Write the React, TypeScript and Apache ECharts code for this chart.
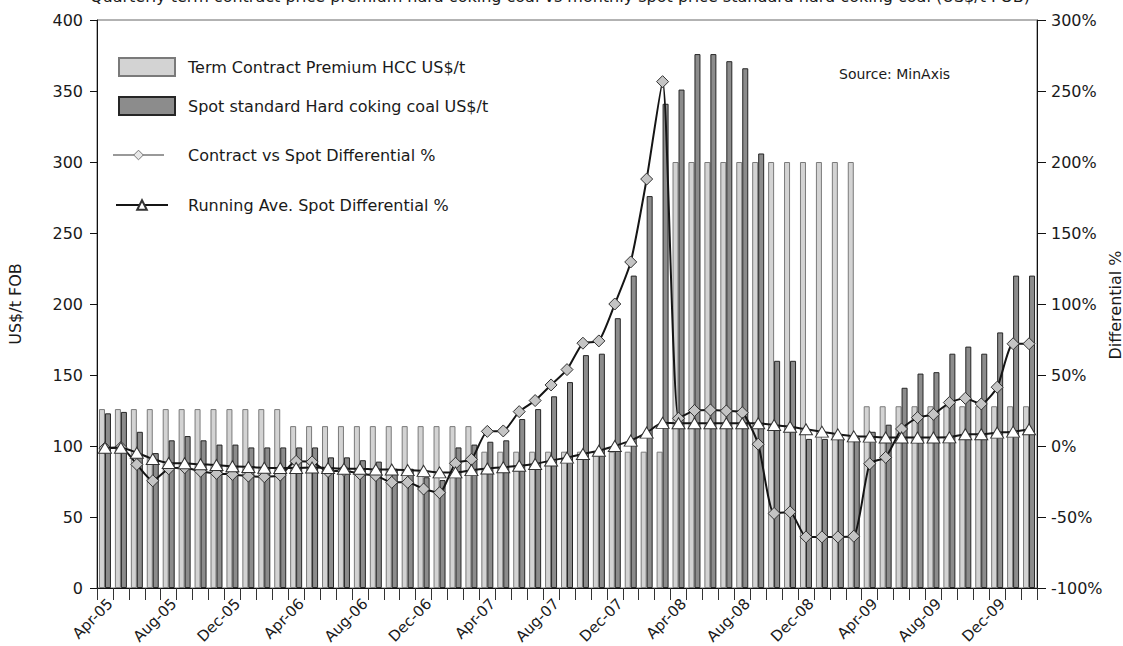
import React, { useEffect, useRef } from "react";
import * as echarts from "echarts";

const months = [
  "Apr-05", "May-05", "Jun-05", "Jul-05", "Aug-05", "Sep-05", "Oct-05", "Nov-05", "Dec-05", "Jan-06", "Feb-06", "Mar-06",
  "Apr-06", "May-06", "Jun-06", "Jul-06", "Aug-06", "Sep-06", "Oct-06", "Nov-06", "Dec-06", "Jan-07", "Feb-07", "Mar-07",
  "Apr-07", "May-07", "Jun-07", "Jul-07", "Aug-07", "Sep-07", "Oct-07", "Nov-07", "Dec-07", "Jan-08", "Feb-08", "Mar-08",
  "Apr-08", "May-08", "Jun-08", "Jul-08", "Aug-08", "Sep-08", "Oct-08", "Nov-08", "Dec-08", "Jan-09", "Feb-09", "Mar-09",
  "Apr-09", "May-09", "Jun-09", "Jul-09", "Aug-09", "Sep-09", "Oct-09", "Nov-09", "Dec-09", "Jan-10", "Feb-10",
];

const termContract = [
  126, 126, 126, 126, 126, 126, 126, 126, 126, 126, 126, 126,
  114, 114, 114, 114, 114, 114, 114, 114, 114, 114, 114, 114,
  96, 96, 96, 96, 96, 96, 96, 96, 96, 96, 96, 96,
  300, 300, 300, 300, 300, 300, 300, 300, 300, 300, 300, 300,
  128, 128, 128, 128, 128, 128, 128, 128, 128, 128, 128,
];

const spotHcc = [
  123, 124, 110, 95, 104, 107, 104, 101, 101, 99, 99, 99,
  99, 99, 92, 92, 90, 89, 84, 84, 78, 76, 99, 101,
  103, 104, 119, 126, 135, 145, 164, 165, 190, 220, 276, 341,
  351, 376, 376, 371, 366, 306, 160, 160, 105, 105, 105, 106,
  110, 115, 141, 151, 152, 165, 170, 165, 180, 220, 220,
];

const contractVsSpot = [
  -1.5, -1, -13, -24.5, -16, -15.3, -17.8, -19.3, -20, -21.2, -21.6, -20.5,
  -10.8, -11.2, -18, -17.2, -19.6, -20.8, -25.6, -25.6, -30.3, -32.9, -12.2, -9.4,
  10.3, 10.6, 24.2, 32, 43, 53.8, 72.4, 74, 100, 129.6, 188, 256.6,
  19.5, 25, 25.4, 24.7, 23.5, 1.3, -47.5, -46.4, -64, -64, -64, -63.5,
  -12.5, -8, 12, 20, 22.3, 30.6, 33.6, 29.6, 41.4, 72, 72,
];

const runningAve = [
  -1.2, -1.2, -4.7, -9.2, -12, -12.2, -12.9, -13.4, -14.3, -14.8, -15.3, -15.5,
  -15.5, -15.2, -15.5, -16, -16, -16.5, -16.5, -17, -17.5, -18.6, -18.6, -17,
  -15.8, -15, -13.9, -12.7, -10.2, -8.2, -5.6, -3.3, 0, 3.8, 9.4, 16.3,
  16, 16, 16, 16, 16, 16, 14.8, 13.6, 11.8, 10.1, 8.2, 6.8,
  6.6, 6, 6, 5.9, 6, 6.1, 8.3, 8.3, 9.4, 10.1, 11.8,
];

const seriesNames = [
  "Term Contract Premium HCC US$/t",
  "Spot standard Hard coking coal US$/t",
  "Contract vs Spot Differential %",
  "Running Ave. Spot Differential %",
];

const titleText =
  "Quarterly term contract price premium hard coking coal vs monthly spot price standard hard coking coal (US$/t FOB)";
const sourceText = "Source: MinAxis";
const leftAxisName = "US$/t FOB";
const rightAxisName = "Differential %";

const FONT = "DejaVu Sans";

export default function App() {
  const ref = useRef<HTMLDivElement>(null);

  useEffect(() => {
    if (!ref.current) return;
    const chart = echarts.init(ref.current, null, { renderer: "svg" });
    const legendBase = {
      orient: "vertical",
      padding: 0,
      selectedMode: false,
      textStyle: { fontFamily: FONT, fontSize: 16, color: "#1a1a1a" },
    };
    chart.setOption({
      animation: false,
      backgroundColor: "#ffffff",
      textStyle: { fontFamily: FONT },
      grid: {
        left: 97,
        right: 86,
        top: 20,
        bottom: 58,
        containLabel: false,
        outerBoundsMode: "none",
        show: true,
        borderColor: "#666",
        borderWidth: 1,
        backgroundColor: "transparent",
      },
      legend: [
        {
          ...legendBase,
          left: 118,
          top: 57,
          itemWidth: 56,
          itemHeight: 18,
          data: [{ name: seriesNames[0], icon: "rect" }],
          textStyle: { ...legendBase.textStyle, padding: [0, 0, 0, 8] },
        },
        {
          ...legendBase,
          left: 118,
          top: 96,
          itemWidth: 56,
          itemHeight: 18,
          data: [{ name: seriesNames[1], icon: "rect" }],
          textStyle: { ...legendBase.textStyle, padding: [0, 0, 0, 8] },
        },
        {
          ...legendBase,
          left: 112,
          top: 147,
          itemWidth: 51,
          itemHeight: 12,
          data: [
            {
              name: seriesNames[2],
              lineStyle: { color: "#999", width: 2 },
              itemStyle: { color: "#e8e8e8", borderColor: "#777", borderWidth: 1 },
            },
          ],
          textStyle: { ...legendBase.textStyle, padding: [0, 0, 0, 19] },
        },
        {
          ...legendBase,
          left: 115,
          top: 197,
          itemWidth: 52,
          itemHeight: 12,
          data: [seriesNames[3]],
          textStyle: { ...legendBase.textStyle, padding: [0, 0, 0, 15] },
        },
      ],
      graphic: [
        {
          type: "text",
          right: 93,
          top: -12,
          style: {
            text: titleText,
            font: `16px "${FONT}"`,
            fill: "#1a1a1a",
          },
        },
        {
          type: "text",
          left: 839,
          top: 67,
          style: {
            text: sourceText,
            font: `14px "${FONT}"`,
            fill: "#1a1a1a",
          },
        },
        {
          type: "text",
          x: 1115,
          y: 305,
          rotation: Math.PI / 2,
          style: {
            text: rightAxisName,
            font: `16px "${FONT}"`,
            fill: "#1a1a1a",
            align: "center",
            verticalAlign: "middle",
          },
        },
      ],
      xAxis: {
        type: "category",
        data: months,
        boundaryGap: true,
        axisLine: { show: true, lineStyle: { color: "#111", width: 1 } },
        axisTick: { show: true, interval: 0, length: 12, lineStyle: { color: "#333" } },
        axisLabel: {
          interval: 3,
          rotate: 45,
          fontSize: 15,
          fontFamily: FONT,
          color: "#1a1a1a",
          margin: 8,
          verticalAlign: "top",
        },
        splitLine: { show: false },
      },
      yAxis: [
        {
          type: "value",
          min: 0,
          max: 400,
          interval: 50,
          position: "left",
          name: leftAxisName,
          nameLocation: "middle",
          nameGap: 74,
          nameTextStyle: { fontFamily: FONT, fontSize: 16, color: "#1a1a1a" },
          axisLine: { show: true, lineStyle: { color: "#111" } },
          axisTick: { show: true, length: 7, lineStyle: { color: "#111" } },
          axisLabel: { fontSize: 16, fontFamily: FONT, color: "#1a1a1a", margin: 14 },
          splitLine: { show: false },
        },
        {
          type: "value",
          min: -100,
          max: 300,
          interval: 50,
          position: "right",
          axisLine: { show: true, lineStyle: { color: "#111" } },
          axisTick: { show: true, length: 9, lineStyle: { color: "#111" } },
          axisLabel: {
            fontSize: 16,
            fontFamily: FONT,
            color: "#1a1a1a",
            margin: 14,
            formatter: "{value}%",
          },
          splitLine: { show: false },
        },
      ],
      series: [
        {
          name: seriesNames[0],
          type: "bar",
          data: termContract,
          barWidth: 6,
          barGap: "0%",
          itemStyle: { color: "#d3d3d3", borderColor: "#7a7a7a", borderWidth: 1 },
          emphasis: { disabled: true },
        },
        {
          name: seriesNames[1],
          type: "bar",
          data: spotHcc,
          barWidth: 6,
          barGap: "0%",
          itemStyle: { color: "#8c8c8c", borderColor: "#262626", borderWidth: 1 },
          emphasis: { disabled: true },
        },
        {
          name: seriesNames[2],
          type: "line",
          yAxisIndex: 1,
          data: contractVsSpot,
          smooth: 0.2,
          showSymbol: true,
          showAllSymbol: true,
          symbol: "diamond",
          symbolSize: 12,
          lineStyle: { color: "#151515", width: 2 },
          itemStyle: { color: "#c4c4c4", borderColor: "#333", borderWidth: 1 },
          z: 3,
          emphasis: { disabled: true },
        },
        {
          name: seriesNames[3],
          type: "line",
          yAxisIndex: 1,
          data: runningAve,
          smooth: 0.2,
          showSymbol: true,
          showAllSymbol: true,
          symbol: "triangle",
          symbolSize: [13, 11],
          lineStyle: { color: "#151515", width: 2 },
          itemStyle: { color: "#ffffff", borderColor: "#333", borderWidth: 1 },
          z: 4,
          emphasis: { disabled: true },
        },
      ],
    });
    return () => chart.dispose();
  }, []);

  return (
    <div
      ref={ref}
      style={{ position: "fixed", left: 0, top: 0, width: 1123, height: 646, background: "#fff" }}
    />
  );
}
